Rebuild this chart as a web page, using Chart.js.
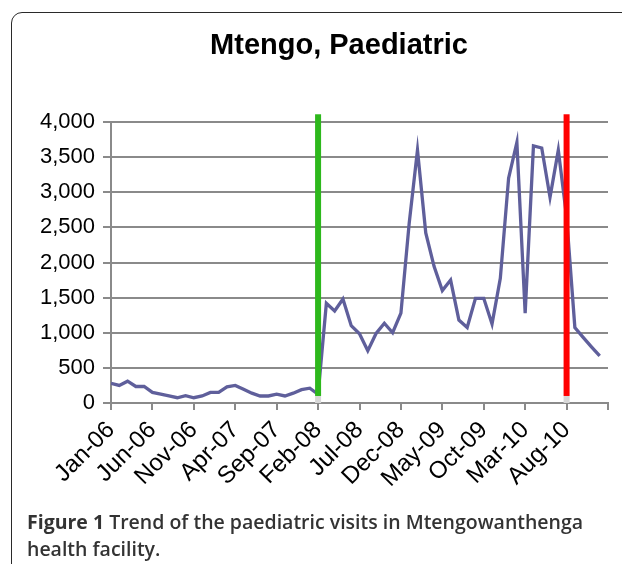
<!DOCTYPE html>
<html>
<head>
<meta charset="utf-8">
<script src="https://cdn.jsdelivr.net/npm/chart.js@4.4.0/dist/chart.umd.min.js"></script>
<style>
  html, body { margin: 0; padding: 0; background: #fff; }
  #wrap { position: relative; width: 622px; height: 564px; overflow: hidden; }
  #frame { position: absolute; left: 11px; top: 12px; width: 700px; height: 620px;
           border: 1.5px solid #2a2a2a; border-radius: 11px; box-sizing: border-box; }
  #chart { position: absolute; left: 0; top: 0; }
  #title { position: absolute; left: 139px; width: 400px; top: 27px; text-align: center;
           font: bold 29px "Liberation Sans", Arial, sans-serif; color: #000; line-height: 34px; }
  #caption { position: absolute; left: 27px; top: 508px; font: 600 19.5px "Open Sans"; color: #333;
             line-height: 27px; white-space: nowrap; }
  #caption b { font-weight: 700; }
</style>
</head>
<body>
<div id="wrap">
  <div id="frame"></div>
  <canvas id="chart" width="622" height="564"></canvas>
  <div id="title"></div>
  <div id="caption"><b>Figure 1</b> Trend of the paediatric visits in Mtengowanthenga<br>health facility.</div>
</div>
<script>
const chartTitle = 'Mtengo, Paediatric';

const months = [
  'Jan-06','Feb-06','Mar-06','Apr-06','May-06','Jun-06','Jul-06','Aug-06','Sep-06','Oct-06','Nov-06','Dec-06',
  'Jan-07','Feb-07','Mar-07','Apr-07','May-07','Jun-07','Jul-07','Aug-07','Sep-07','Oct-07','Nov-07','Dec-07',
  'Jan-08','Feb-08','Mar-08','Apr-08','May-08','Jun-08','Jul-08','Aug-08','Sep-08','Oct-08','Nov-08','Dec-08',
  'Jan-09','Feb-09','Mar-09','Apr-09','May-09','Jun-09','Jul-09','Aug-09','Sep-09','Oct-09','Nov-09','Dec-09',
  'Jan-10','Feb-10','Mar-10','Apr-10','May-10','Jun-10','Jul-10','Aug-10','Sep-10','Oct-10','Nov-10','Dec-10'
];

// paediatric visits per month
const visits = [
   280,  250,  310,  235,  235,  150,  125,  100,   75,  105,   75,  100,
   150,  150,  230,  250,  195,  140,  100,  100,  125,  100,  140,  190,
   210,  125, 1420, 1310, 1480, 1100,  985,  745,  990, 1135, 1000, 1280,
  2560, 3600, 2420, 1945, 1600, 1750, 1180, 1075, 1490, 1490, 1125, 1775,
  3200, 3710, 1280, 3660, 3630, 2930, 3600, 2650, 1075,  935,  800,  670
];

const markers = [
  { month: 'Feb-08', color: '#2db81c' },
  { month: 'Aug-10', color: '#ff0000' }
];
const markerTop = 4110;
const markerFoot = 100;

const yMax = 4000;
const yStep = 500;
const monthStep = 5;

const gridGray = '#8a8a8a';
const fontFamily = '"Liberation Sans", Arial, sans-serif';

document.getElementById('title').textContent = chartTitle;

const markerLines = {
  id: 'markerLines',
  afterDatasetsDraw(chart) {
    const { ctx, scales: { x, y } } = chart;
    markers.forEach(m => {
      const px = x.getPixelForValue(months.indexOf(m.month));
      const top = y.getPixelForValue(markerTop);
      const foot = y.getPixelForValue(markerFoot);
      const base = y.getPixelForValue(0);
      ctx.save();
      ctx.fillStyle = '#d8d8d8';
      ctx.fillRect(px - 3, foot, 6, base - foot);
      ctx.fillStyle = m.color;
      ctx.fillRect(px - 3, top, 6, foot - top);
      ctx.restore();
    });
  }
};

new Chart(document.getElementById('chart'), {
  type: 'line',
  data: {
    datasets: [{
      data: visits.map((v, i) => ({ x: i, y: v })),
      borderColor: '#5f5f9b',
      borderWidth: 3.3,
      pointRadius: 0,
      tension: 0,
      fill: false
    }]
  },
  options: {
    responsive: false,
    animation: false,
    layout: { padding: { left: 0, right: 14, top: 122, bottom: 0 } },
    plugins: {
      legend: { display: false },
      tooltip: { enabled: false },
      title: { display: false }
    },
    scales: {
      x: {
        type: 'linear',
        min: 0,
        max: months.length,
        grid: { drawOnChartArea: false, drawTicks: true, tickLength: 7, color: gridGray, lineWidth: 2 },
        border: { color: gridGray, width: 2 },
        ticks: {
          stepSize: monthStep,
          autoSkip: false,
          maxRotation: 45,
          minRotation: 45,
          padding: 6,
          color: '#000',
          font: { family: fontFamily, size: 24 },
          callback: v => months[v] ?? ''
        },
        afterFit: s => { s.height = 161; s.paddingRight = 0; s.paddingLeft = 0; }
      },
      y: {
        min: 0,
        max: yMax,
        grid: { color: gridGray, lineWidth: 2, tickLength: 8 },
        border: { color: gridGray, width: 2 },
        ticks: {
          stepSize: yStep,
          padding: 8,
          color: '#000',
          font: { family: fontFamily, size: 22 },
          callback: v => v.toLocaleString('en-US')
        },
        afterFit: s => { s.width = 111; }
      }
    }
  },
  plugins: [markerLines]
});
</script>
</body>
</html>
